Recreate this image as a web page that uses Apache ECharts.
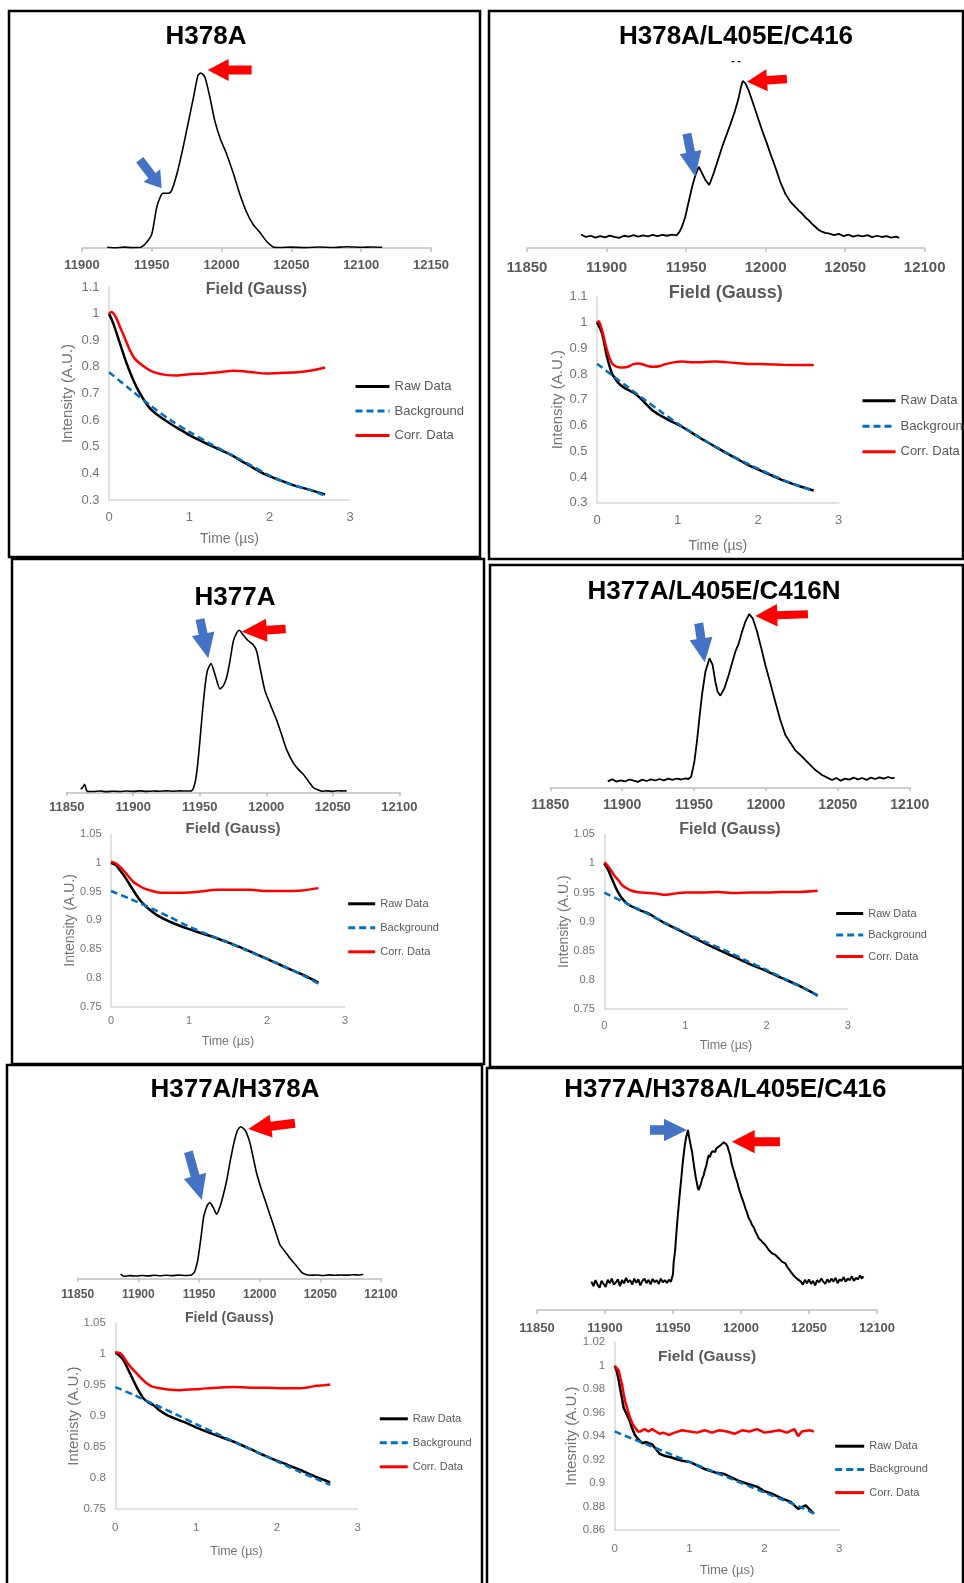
<!DOCTYPE html>
<html><head><meta charset="utf-8">
<script src="https://cdn.jsdelivr.net/npm/echarts@6/dist/echarts.min.js"></script>
<style>html,body{margin:0;padding:0;background:#fff}#c{width:964px;height:1583px}</style>
</head><body><div id="c"></div>
<script>
// ---------- DATA ----------
const fieldTicks = [11850, 11900, 11950, 12000, 12050, 12100, 12150];
const legendNames = ['Raw Data', 'Background', 'Corr. Data'];

// Field-swept spectra: [field (G), normalised signal]
const h378aSpectrum = [[11918,0.004],[11924,0.001],[11930,0.005],[11936,0.002],[11942,0.004],[11946,0.03],[11950,0.08],[11953.5,0.232],[11956,0.29],[11958,0.313],[11962,0.313],[11964,0.324],[11968,0.424],[11972.5,0.578],[11976,0.712],[11980,0.866],[11983,0.985],[11985,1.0],[11988,0.977],[11991.5,0.866],[11995,0.731],[11999,0.626],[12003.5,0.539],[12008.5,0.424],[12013,0.309],[12018,0.203],[12022.5,0.136],[12027.5,0.088],[12032,0.04],[12037,0.006],[12042,0.003],[12050,0.005],[12060,0.002],[12070,0.006],[12080,0.003],[12090,0.007],[12100,0.004],[12108,0.006],[12115,0.004]];
const h378aTripleSpectrum = [[11884,0.01],[11887,-0.006],[11890,0.002],[11893,-0.01],[11896,0.0],[11899,-0.008],[11902,0.003],[11905,-0.005],[11908,-0.012],[11911,0.002],[11914,-0.004],[11917,0.006],[11920,-0.003],[11923,0.004],[11926,-0.002],[11929,0.008],[11932,0.0],[11935,0.007],[11938,0.002],[11941,0.009],[11944,0.004],[11946,0.03],[11947.4,0.06],[11949.5,0.125],[11951.6,0.22],[11953.8,0.318],[11955.9,0.394],[11958,0.447],[11960.1,0.404],[11962.2,0.361],[11964.6,0.329],[11967.5,0.41],[11970.5,0.505],[11973,0.585],[11975.5,0.655],[11978,0.725],[11980.5,0.8],[11982.8,0.88],[11984.6,0.965],[11985.6,1.0],[11987.3,0.985],[11989.3,0.94],[11992.5,0.845],[11995.6,0.748],[11998.2,0.67],[12000.8,0.598],[12003.4,0.52],[12006,0.447],[12009.2,0.35],[12012.3,0.275],[12015.5,0.222],[12018.6,0.189],[12020.7,0.165],[12022.8,0.146],[12025,0.12],[12027,0.103],[12029,0.08],[12031.2,0.06],[12033.3,0.04],[12035.4,0.028],[12037.5,0.02],[12039.6,0.017],[12043,0.006],[12046,0.014],[12049,0.0],[12052,0.009],[12055,-0.004],[12058,0.005],[12061,-0.002],[12064,0.006],[12067,-0.007],[12070,0.002],[12073,-0.006],[12076,-0.001],[12079,-0.01],[12082,-0.004],[12084,-0.012]];
const h377aSpectrum = [[11860.5,0.01],[11862,0.02],[11863.5,0.04],[11865,0.0],[11867,-0.005],[11870,-0.005],[11875,-0.002],[11880,-0.006],[11885,-0.003],[11890,-0.005],[11895,-0.002],[11900,-0.004],[11905,-0.001],[11910,-0.004],[11915,-0.002],[11920,-0.003],[11925,-0.001],[11930,-0.003],[11935,-0.001],[11940,-0.002],[11944,0.0],[11946.5,0.051],[11948.3,0.153],[11950.2,0.317],[11951.9,0.48],[11953.9,0.644],[11955.7,0.746],[11958.5,0.793],[11961.4,0.726],[11965.2,0.634],[11967.7,0.654],[11970.2,0.706],[11972.7,0.808],[11975.2,0.931],[11977.7,0.982],[11979.7,1.0],[11982.7,0.971],[11986.5,0.935],[11990.2,0.91],[11992.8,0.869],[11995.3,0.767],[11999,0.624],[12003.3,0.532],[12007.8,0.44],[12011.6,0.348],[12015.3,0.256],[12020.3,0.174],[12024.1,0.133],[12027.8,0.102],[12031.6,0.061],[12035.3,0.02],[12039.1,0.004],[12042,-0.003],[12046,-0.001],[12050,-0.004],[12054,0.0],[12058,-0.002],[12060.4,-0.001]];
const h377aTripleSpectrum = [[11890,-0.008],[11893,0.004],[11896,-0.01],[11899,-0.002],[11902,-0.009],[11905,0.003],[11908,-0.004],[11911,-0.011],[11914,0.002],[11917,-0.006],[11920,0.004],[11923,-0.003],[11926,0.006],[11929,-0.002],[11932,0.008],[11935,0.001],[11938,0.009],[11941,0.003],[11944,0.01],[11946,0.006],[11948,0.02],[11950.2,0.11],[11952,0.231],[11953.7,0.371],[11955.5,0.512],[11957.9,0.653],[11960.8,0.733],[11962.9,0.693],[11964.8,0.592],[11966.4,0.532],[11968.3,0.508],[11971.1,0.552],[11974.1,0.633],[11976.4,0.703],[11978.7,0.773],[11981.1,0.823],[11983.4,0.894],[11985.7,0.954],[11988.4,1.0],[11990.8,0.974],[11993.8,0.894],[11996.8,0.793],[11999.6,0.693],[12003.1,0.582],[12006.5,0.472],[12010,0.361],[12013.5,0.271],[12017,0.225],[12020.5,0.178],[12025.1,0.141],[12029.7,0.1],[12034.4,0.06],[12039,0.03],[12043.7,0.01],[12046,0.0],[12049,0.012],[12052,-0.004],[12055,0.008],[12058,0.002],[12061,0.014],[12064,0.004],[12067,0.012],[12070,0.001],[12073,0.014],[12076,0.006],[12079,0.016],[12082,0.008],[12085,0.018],[12088,0.01],[12089.5,0.014]];
const doubleSpectrum = [[11885.4,0.01],[11888,-0.004],[11893,0.0],[11898,-0.003],[11903,0.001],[11908,-0.002],[11913,0.002],[11918,-0.001],[11923,0.002],[11928,0.0],[11933,0.003],[11938,0.001],[11943,0.002],[11946,0.02],[11948.7,0.094],[11950.4,0.183],[11952.2,0.295],[11953.6,0.385],[11955,0.43],[11956.9,0.474],[11959,0.49],[11961.8,0.456],[11964.6,0.412],[11967.3,0.463],[11970,0.541],[11972.9,0.642],[11975.6,0.765],[11977.8,0.855],[11979.7,0.922],[11981.9,0.978],[11984.3,1.0],[11987.1,0.984],[11989.3,0.955],[11992.1,0.888],[11994.8,0.787],[11997.5,0.687],[12000.3,0.608],[12003,0.541],[12005.8,0.474],[12008.5,0.407],[12011.3,0.34],[12014,0.273],[12016.8,0.206],[12020.9,0.161],[12025,0.116],[12029.2,0.076],[12031.9,0.049],[12034.7,0.022],[12037.4,0.009],[12042,0.002],[12047,0.004],[12052,0.001],[12057,0.005],[12062,0.002],[12067,0.004],[12072,0.003],[12077,0.006],[12082,0.004],[12085.4,0.007]];
const quadSpectrum = [[11890,0.0],[11891.5,-0.03],[11893,0.01],[11894.5,-0.02],[11896,-0.04],[11897.5,0.005],[11899,-0.015],[11900.5,-0.035],[11902,0.012],[11903.5,-0.01],[11905,0.02],[11906.5,-0.02],[11908,-0.005],[11909.5,0.015],[11911,-0.03],[11912.5,0.01],[11914,-0.012],[11915.5,0.025],[11917,-0.005],[11918.5,0.01],[11920,-0.02],[11921.5,0.02],[11923,-0.008],[11924.5,0.015],[11926,-0.025],[11927.5,0.005],[11929,0.02],[11930.5,-0.01],[11932,0.012],[11933.5,-0.018],[11935,0.018],[11936.5,-0.004],[11938,0.01],[11939.5,-0.015],[11941,0.02],[11942.5,-0.005],[11944,0.01],[11945.5,-0.008],[11947,0.012],[11948.5,0.0],[11950,0.05],[11950.5,0.13],[11951.5,0.2],[11952.2,0.286],[11953.2,0.4],[11954.2,0.505],[11955.2,0.6],[11956.1,0.681],[11957,0.77],[11957.8,0.835],[11958.7,0.9],[11959.5,0.945],[11960.3,0.975],[11961,1.0],[11961.7,0.96],[11962.5,0.923],[11963.2,0.89],[11964,0.857],[11965,0.79],[11965.9,0.736],[11966.7,0.69],[11967.6,0.648],[11968.2,0.62],[11968.9,0.604],[11969.7,0.625],[11970.6,0.648],[11971.5,0.68],[11972.6,0.703],[11973.4,0.735],[11974.3,0.758],[11975.3,0.8],[11976.3,0.835],[11977.1,0.82],[11978,0.846],[11979,0.86],[11980,0.868],[11981,0.855],[11981.9,0.879],[11982.8,0.87],[11983.6,0.89],[11984.6,0.885],[11985.6,0.905],[11986.5,0.9],[11987.3,0.919],[11988,0.91],[11988.5,0.927],[11989.3,0.905],[11990.2,0.89],[11991.1,0.86],[11992,0.835],[11992.7,0.8],[11993.4,0.769],[11994.6,0.735],[11995.9,0.692],[11997.1,0.66],[11998.4,0.615],[11999.6,0.58],[12000.8,0.549],[12002,0.52],[12003.2,0.484],[12004.4,0.455],[12005.7,0.418],[12006.9,0.4],[12008.1,0.374],[12009.3,0.36],[12010.6,0.33],[12011.8,0.31],[12013,0.286],[12014.2,0.29],[12015.5,0.264],[12016.7,0.26],[12017.9,0.242],[12019.1,0.235],[12020.4,0.209],[12021.6,0.215],[12022.8,0.187],[12024,0.195],[12025.3,0.176],[12026.5,0.17],[12027.7,0.154],[12028.9,0.16],[12030.1,0.132],[12031.3,0.14],[12032.6,0.121],[12033.8,0.1],[12035,0.088],[12036.2,0.07],[12037.5,0.055],[12038.7,0.04],[12039.9,0.033],[12041.1,0.02],[12042.4,0.018],[12044,0.0],[12045.5,-0.02],[12047,0.012],[12048.5,-0.01],[12050,0.015],[12051.5,-0.015],[12053,0.005],[12054.5,-0.025],[12056,0.01],[12057.5,-0.005],[12059,0.02],[12060.5,0.0],[12062,-0.015],[12063.5,0.015],[12065,-0.005],[12066.5,0.02],[12068,0.0],[12069.5,0.025],[12071,-0.01],[12072.5,0.015],[12074,0.005],[12075.5,0.03],[12077,0.0],[12078.5,0.02],[12080,0.01],[12081.5,0.035],[12083,0.005],[12084.5,0.025],[12086,0.015],[12087.5,0.04],[12089,0.02],[12090,0.035]];

// Time traces: [time (us), intensity (A.U.)]
const h378aRaw = [[0,1.0],[0.054,0.9625],[0.137,0.8875],[0.22,0.8125],[0.303,0.75],[0.386,0.70],[0.51,0.644],[0.635,0.6125],[0.76,0.5875],[0.88,0.565],[1.0,0.544],[1.17,0.518],[1.34,0.494],[1.5,0.472],[1.63,0.45],[1.8,0.42],[1.96,0.394],[2.13,0.374],[2.29,0.356],[2.5,0.338],[2.69,0.321]];
const h378aBackground = [[0,0.78],[0.25,0.719],[0.51,0.656],[0.75,0.603],[1.0,0.556],[1.25,0.513],[1.5,0.473],[1.75,0.433],[2.0,0.392],[2.25,0.36],[2.5,0.338],[2.69,0.316]];
const h378aCorr = [[0,1.0],[0.03,1.006],[0.08,0.99],[0.137,0.95],[0.2,0.906],[0.26,0.8625],[0.32,0.831],[0.386,0.8125],[0.47,0.794],[0.55,0.781],[0.72,0.769],[0.85,0.768],[1.0,0.7725],[1.2,0.7755],[1.4,0.781],[1.55,0.785],[1.76,0.781],[1.96,0.775],[2.17,0.7775],[2.38,0.781],[2.54,0.7875],[2.69,0.7975]];

const h378aTripleRaw = [[0,1.0],[0.062,0.958],[0.124,0.867],[0.186,0.802],[0.23,0.78],[0.27,0.763],[0.33,0.748],[0.393,0.737],[0.45,0.728],[0.517,0.712],[0.6,0.686],[0.683,0.66],[0.79,0.638],[0.89,0.621],[1.055,0.595],[1.25,0.557],[1.47,0.517],[1.68,0.48],[1.88,0.446],[2.1,0.415],[2.3,0.388],[2.5,0.366],[2.69,0.347]];
const h378aTripleBackground = [[0,0.84],[0.2,0.792],[0.4,0.745],[0.6,0.698],[0.8,0.652],[1.0,0.608],[1.2,0.568],[1.4,0.53],[1.6,0.495],[1.8,0.462],[2.0,0.432],[2.2,0.403],[2.4,0.377],[2.6,0.355],[2.69,0.345]];
const h378aTripleCorr = [[0,1.0],[0.02,1.005],[0.062,0.97],[0.124,0.893],[0.186,0.841],[0.23,0.83],[0.27,0.826],[0.33,0.825],[0.4,0.83],[0.45,0.838],[0.517,0.841],[0.58,0.836],[0.64,0.83],[0.7,0.828],[0.77,0.83],[0.85,0.838],[0.95,0.845],[1.055,0.848],[1.2,0.845],[1.47,0.848],[1.7,0.843],[1.9,0.839],[2.1,0.838],[2.3,0.836],[2.5,0.835],[2.69,0.835]];

const h377aRaw = [[0,1.0],[0.06,0.996],[0.115,0.987],[0.18,0.975],[0.244,0.961],[0.31,0.947],[0.372,0.935],[0.44,0.925],[0.5,0.918],[0.58,0.91],[0.67,0.903],[0.8,0.895],[0.97,0.886],[1.15,0.878],[1.355,0.869],[1.55,0.859],[1.78,0.846],[2.0,0.833],[2.21,0.82],[2.45,0.806],[2.66,0.792]];
const h377aBackground = [[0,0.951],[0.25,0.937],[0.5,0.922],[0.75,0.906],[1.0,0.889],[1.25,0.875],[1.5,0.862],[1.75,0.847],[2.0,0.833],[2.25,0.818],[2.5,0.802],[2.66,0.79]];
const h377aCorr = [[0,1.002],[0.05,1.0],[0.1,0.995],[0.158,0.987],[0.22,0.977],[0.286,0.967],[0.35,0.961],[0.415,0.956],[0.5,0.952],[0.585,0.949],[0.7,0.948],[0.93,0.948],[1.15,0.95],[1.355,0.953],[1.55,0.953],[1.78,0.953],[2.0,0.951],[2.21,0.951],[2.45,0.952],[2.66,0.956]];

const h377aTripleRaw = [[0,1.0],[0.037,0.992],[0.074,0.98],[0.136,0.96],[0.18,0.948],[0.218,0.94],[0.28,0.931],[0.34,0.926],[0.45,0.919],[0.547,0.914],[0.65,0.905],[0.75,0.897],[0.958,0.883],[1.15,0.869],[1.37,0.854],[1.58,0.841],[1.78,0.828],[2.0,0.815],[2.19,0.803],[2.4,0.79],[2.63,0.773]];
const h377aTripleBackground = [[0,0.95],[0.25,0.933],[0.5,0.916],[0.75,0.898],[1.0,0.881],[1.25,0.865],[1.5,0.85],[1.75,0.833],[2.0,0.817],[2.25,0.8],[2.5,0.783],[2.63,0.773]];
const h377aTripleCorr = [[0,1.002],[0.053,0.994],[0.1,0.984],[0.136,0.977],[0.18,0.97],[0.218,0.963],[0.28,0.957],[0.34,0.953],[0.4,0.951],[0.464,0.95],[0.55,0.949],[0.65,0.948],[0.75,0.946],[0.85,0.948],[1.0,0.95],[1.2,0.95],[1.4,0.951],[1.6,0.949],[1.8,0.95],[2.0,0.95],[2.2,0.951],[2.4,0.951],[2.63,0.953]];

const doubleRaw = [[0,1.003],[0.05,0.998],[0.099,0.991],[0.16,0.975],[0.223,0.958],[0.28,0.943],[0.347,0.929],[0.41,0.922],[0.47,0.918],[0.55,0.909],[0.636,0.902],[0.74,0.896],[0.84,0.891],[1.05,0.879],[1.25,0.869],[1.46,0.859],[1.67,0.847],[1.87,0.835],[2.08,0.824],[2.29,0.813],[2.5,0.801],[2.66,0.793]];
const doubleBackground = [[0,0.947],[0.25,0.933],[0.5,0.918],[0.75,0.903],[1.0,0.887],[1.25,0.872],[1.5,0.857],[1.75,0.842],[2.0,0.827],[2.25,0.812],[2.5,0.798],[2.66,0.789]];
const doubleCorr = [[0,1.003],[0.06,1.002],[0.14,0.988],[0.2,0.978],[0.264,0.969],[0.33,0.96],[0.388,0.953],[0.45,0.948],[0.553,0.945],[0.65,0.943],[0.8,0.942],[1.05,0.944],[1.25,0.946],[1.46,0.947],[1.67,0.946],[1.87,0.946],[2.08,0.945],[2.29,0.945],[2.49,0.949],[2.58,0.95],[2.66,0.951]];

const quadRaw = [[0,1.0],[0.025,0.996],[0.053,0.988],[0.075,0.98],[0.098,0.972],[0.12,0.964],[0.143,0.961],[0.165,0.958],[0.2,0.953],[0.231,0.947],[0.27,0.941],[0.32,0.937],[0.37,0.934],[0.42,0.935],[0.454,0.934],[0.5,0.933],[0.55,0.929],[0.6,0.925],[0.676,0.923],[0.75,0.922],[0.8,0.921],[0.9,0.919],[1.0,0.918],[1.1,0.915],[1.2,0.912],[1.344,0.909],[1.45,0.908],[1.55,0.905],[1.65,0.902],[1.79,0.899],[1.9,0.897],[2.0,0.893],[2.1,0.891],[2.23,0.887],[2.35,0.884],[2.45,0.878],[2.55,0.881],[2.66,0.874]];
const quadBackground = [[0,0.944],[0.5,0.931],[1.0,0.918],[1.5,0.905],[2.0,0.892],[2.5,0.879],[2.66,0.874]];
const quadCorr = [[0,1.0],[0.025,0.998],[0.053,0.996],[0.075,0.99],[0.098,0.984],[0.12,0.976],[0.142,0.969],[0.175,0.962],[0.209,0.955],[0.243,0.95],[0.276,0.947],[0.31,0.944],[0.343,0.944],[0.4,0.946],[0.45,0.944],[0.5,0.946],[0.55,0.944],[0.6,0.942],[0.65,0.943],[0.72,0.941],[0.8,0.943],[0.9,0.945],[1.0,0.944],[1.1,0.943],[1.2,0.945],[1.3,0.943],[1.4,0.945],[1.5,0.944],[1.6,0.942],[1.7,0.945],[1.8,0.944],[1.9,0.946],[2.0,0.943],[2.1,0.944],[2.2,0.945],[2.3,0.943],[2.4,0.946],[2.45,0.94],[2.5,0.944],[2.6,0.945],[2.66,0.944]];

// ---------- LAYOUT & STYLE ----------
const FONT = '"Liberation Sans", Arial, Helvetica, sans-serif';
const RED = '#FF0000', ARROW_BLUE = '#4472C4', BG_BLUE = '#0070C0';
const GREY_AXIS = '#bfbfbf', GREY_AXIS2 = '#d9d9d9', GREY_TXT = '#595959', GREY_TICK = '#747474';

const panels = [
  { title:'H378A', tx:206, ty:37, box:[9,11,471,546],
    spec:{ data:h378aSpectrum, left:82, width:349, axisY:248, peakY:73, ymin:0, xmin:11900, xmax:12150, tickFont:13, nameFont:16, margin:11, nameGap:34, lw:1.6, smooth:0.2 },
    deer:{ raw:h378aRaw, bg:h378aBackground, corr:h378aCorr, left:109, width:241, top:287, height:213, ymin:0.3, ymax:1.1, interval:0.1, tickFont:13, nameFont:14, xMargin:10.5, nameGap:32, yName:'Intensity (A.U.)', yNameX:68, yNameFont:15, smooth:0.3 },
    legend:{ left:354, top:380, itemWidth:34, itemGap:11.5, font:13 },
    arrows:[ { color:RED, at:[11985,1.0], angle:180, len:44, head:21, headW:22, shaftW:9, dx:7, dy:-3 },
             { color:ARROW_BLUE, at:[11958,0.313], angle:52.5, len:36, head:16, headW:21, shaftW:9, dx:-1.3, dy:-4.9 } ] },
  { title:'H378A/L405E/C416', tx:736, ty:37, box:[489,11,474,548],
    spec:{ data:h378aTripleSpectrum, left:527, width:397.7, axisY:248, peakY:81, ymin:-0.077, xmin:11850, xmax:12100, tickFont:15, nameFont:18, margin:12, nameGap:36, lw:1.8, smooth:0 },
    deer:{ raw:h378aTripleRaw, bg:h378aTripleBackground, corr:h378aTripleCorr, left:597, width:241.7, top:296.7, height:206, ymin:0.3, ymax:1.1, interval:0.1, tickFont:13, nameFont:14, xMargin:11.5, nameGap:36, yName:'Intensity (A.U.)', yNameX:558, yNameFont:15, smooth:0.3 },
    legend:{ left:861, top:394.3, itemWidth:33, itemGap:12.5, font:13 },
    arrows:[ { color:RED, at:[11985.6,1.0], angle:176, len:40, head:20, headW:22, shaftW:8.5, dx:4.3, dy:0.7 },
             { color:ARROW_BLUE, at:[11958,0.447], angle:79, len:44, head:25, headW:22, shaftW:9, dx:-3.5, dy:10 } ] },
  { title:'H377A', tx:235, ty:597.7, box:[12,559,472,505],
    spec:{ data:h377aSpectrum, left:66.7, width:332.6, axisY:792.3, peakY:630.3, ymin:-0.01, xmin:11850, xmax:12100, tickFont:13, nameFont:15, margin:8.5, nameGap:29, lw:1.6, smooth:0.2 },
    deer:{ raw:h377aRaw, bg:h377aBackground, corr:h377aCorr, left:111, width:234, top:834, height:172.7, ymin:0.75, ymax:1.05, interval:0.05, tickFont:11, nameFont:12.5, xMargin:9, nameGap:28, yName:'Intensity (A.U.)', yNameX:70, yNameFont:14, smooth:0.3 },
    legend:{ left:346.7, top:898.2, itemWidth:27, itemGap:12.8, font:11 },
    arrows:[ { color:RED, at:[11979.7,1.0], angle:176.5, len:44, head:25, headW:23, shaftW:8.7, dx:2.5, dy:1.4 },
             { color:ARROW_BLUE, at:[11958.5,0.793], angle:78, len:40, head:25, headW:23, shaftW:9, dx:-2.75, dy:-5.2 } ] },
  { title:'H377A/L405E/C416N', tx:714, ty:592, box:[490,565,473,502],
    spec:{ data:h377aTripleSpectrum, left:550.3, width:359.4, axisY:787.3, peakY:614, ymin:-0.044, xmin:11850, xmax:12100, tickFont:14, nameFont:16, margin:10.7, nameGap:34, lw:1.8, smooth:0 },
    deer:{ raw:h377aTripleRaw, bg:h377aTripleBackground, corr:h377aTripleCorr, left:604.3, width:243.4, top:834.3, height:174.7, ymin:0.75, ymax:1.05, interval:0.05, tickFont:11, nameFont:12.5, xMargin:11, nameGap:30, yName:'Intensity (A.U.)', yNameX:563.7, yNameFont:14, smooth:0.3 },
    legend:{ left:834.7, top:907.9, itemWidth:27, itemGap:10.3, font:11 },
    arrows:[ { color:RED, at:[11988.4,1.0], angle:178, len:52.7, head:22, headW:22.3, shaftW:8, dx:6, dy:2 },
             { color:ARROW_BLUE, at:[11960.8,0.733], angle:81.3, len:39.5, head:24, headW:23, shaftW:9, dx:-4.9, dy:4 } ] },
  { title:'H377A/H378A', tx:235, ty:1090, box:[7,1065,475,530],
    spec:{ data:doubleSpectrum, left:77.7, width:303.3, axisY:1278.3, peakY:1126.7, ymin:-0.018, xmin:11850, xmax:12100, tickFont:12, nameFont:14, margin:10.5, nameGap:32.5, lw:1.6, smooth:0.2 },
    deer:{ raw:doubleRaw, bg:doubleBackground, corr:doubleCorr, left:115.3, width:242.4, top:1323.3, height:185.7, ymin:0.75, ymax:1.05, interval:0.05, tickFont:11.5, nameFont:12.5, xMargin:13, nameGap:36, yName:'Intenisty (A.U.)', yNameX:74, yNameFont:15, smooth:0.3 },
    legend:{ left:378.3, top:1413.2, itemWidth:28, itemGap:12.8, font:11 },
    arrows:[ { color:RED, at:[11984.3,1.0], angle:173, len:47, head:23, headW:23, shaftW:9, dx:7.7, dy:2.3 },
             { color:ARROW_BLUE, at:[11959,0.49], angle:74.5, len:50, head:25, headW:23, shaftW:9, dx:-8.2, dy:-2.7 } ] },
  { title:'H377A/H378A/L405E/C416', tx:725.3, ty:1090, box:[487,1068,476,530],
    spec:{ data:quadSpectrum, left:537, width:340, axisY:1310, peakY:1130, ymin:-0.187, xmin:11850, xmax:12100, tickFont:13, nameFont:15.5, margin:12, nameGap:39, lw:2, smooth:0 },
    deer:{ raw:quadRaw, bg:quadBackground, corr:quadCorr, left:614.7, width:224.6, top:1342.3, height:187.7, ymin:0.86, ymax:1.02, interval:0.02, tickFont:11.5, nameFont:13, xMargin:12.5, nameGap:34, yName:'Intesnity (A.U.)', yNameX:572, yNameFont:15, smooth:0 },
    legend:{ left:833.7, top:1440.6, itemWidth:29, itemGap:12, font:11 },
    arrows:[ { color:ARROW_BLUE, at:[11961,1.0], angle:0, len:37, head:23, headW:22.7, shaftW:9.3, dx:-1, dy:0 },
             { color:RED, at:[11988.5,0.927], angle:180, len:48, head:22.7, headW:23.3, shaftW:9, dx:6.6, dy:0.6 } ] }
];

// block-arrow symbol: tip at (0,0), pointing along angle (screen coords, y down)
function arrowShape(angleDeg, len, headLen, headW, shaftW) {
  const a = angleDeg * Math.PI / 180, ux = Math.cos(a), uy = Math.sin(a), nx = -uy, ny = ux;
  const hb = [-headLen * ux, -headLen * uy], tl = [-len * ux, -len * uy];
  const pts = [[0, 0],
    [hb[0] + nx * headW / 2, hb[1] + ny * headW / 2],
    [hb[0] + nx * shaftW / 2, hb[1] + ny * shaftW / 2],
    [tl[0] + nx * shaftW / 2, tl[1] + ny * shaftW / 2],
    [tl[0] - nx * shaftW / 2, tl[1] - ny * shaftW / 2],
    [hb[0] - nx * shaftW / 2, hb[1] - ny * shaftW / 2],
    [hb[0] - nx * headW / 2, hb[1] - ny * headW / 2]];
  const xs = pts.map(p => p[0]), ys = pts.map(p => p[1]);
  const minX = Math.min(...xs), minY = Math.min(...ys);
  const w = Math.max(...xs) - minX, h = Math.max(...ys) - minY;
  const path = 'path://M' + pts.map(p => (p[0] - minX).toFixed(2) + ',' + (p[1] - minY).toFixed(2)).join(' L') + ' Z';
  return { path, w, h, tipX: -minX, tipY: -minY };
}

const grid = [], xAxis = [], yAxis = [], series = [], legend = [], graphic = [];
const numFmt = v => String(Math.round(v * 1000) / 1000);

panels.forEach((p, i) => {
  const gs = 2 * i, gd = 2 * i + 1, sp = p.spec, d = p.deer;
  // spectrum grid
  const scale = (sp.axisY - sp.peakY) / (1 - sp.ymin);
  const top = sp.peakY - 0.05 * scale;
  grid.push({ left: sp.left, top: top, width: sp.width, height: sp.axisY - top, containLabel: false, outerBoundsMode: 'none' });
  xAxis.push({ gridIndex: gs, type: 'value', min: sp.xmin, max: sp.xmax, interval: 50,
    axisLine: { show: true, onZero: false, lineStyle: { color: GREY_AXIS, width: 1.5 } },
    axisTick: { show: true, inside: false, length: 4, lineStyle: { color: GREY_AXIS, width: 1.5 } },
    splitLine: { show: false },
    axisLabel: { fontSize: sp.tickFont, fontWeight: 'bold', color: GREY_TXT, fontFamily: FONT, margin: sp.margin, formatter: v => String(v) },
    name: 'Field (Gauss)', nameLocation: 'middle', nameGap: sp.nameGap,
    nameTextStyle: { fontSize: sp.nameFont, fontWeight: 'bold', color: GREY_TXT, fontFamily: FONT } });
  yAxis.push({ gridIndex: gs, type: 'value', min: sp.ymin, max: 1.05, show: false });
  // DEER grid
  grid.push({ left: d.left, top: d.top, width: d.width, height: d.height, containLabel: false, outerBoundsMode: 'none' });
  xAxis.push({ gridIndex: gd, type: 'value', min: 0, max: 3, interval: 1,
    axisLine: { show: true, onZero: false, lineStyle: { color: GREY_AXIS2, width: 1.5 } },
    axisTick: { show: false }, splitLine: { show: false },
    axisLabel: { fontSize: d.tickFont, color: GREY_TICK, fontFamily: FONT, margin: d.xMargin, formatter: numFmt },
    name: 'Time (µs)', nameLocation: 'middle', nameGap: d.nameGap,
    nameTextStyle: { fontSize: d.nameFont, color: GREY_TICK, fontFamily: FONT } });
  yAxis.push({ gridIndex: gd, type: 'value', min: d.ymin, max: d.ymax, interval: d.interval,
    axisLine: { show: true, onZero: false, lineStyle: { color: GREY_AXIS2, width: 1.5 } },
    axisTick: { show: false }, splitLine: { show: false },
    axisLabel: { fontSize: d.tickFont, color: GREY_TICK, fontFamily: FONT, margin: 9.5, formatter: numFmt } });

  // arrows as markPoints anchored in data coordinates
  const mp = p.arrows.map(a => {
    const s = arrowShape(a.angle, a.len, a.head, a.headW, a.shaftW);
    return { coord: a.at, symbol: s.path, symbolSize: [s.w, s.h],
      symbolOffset: [a.dx - (s.tipX - s.w / 2), a.dy - (s.tipY - s.h / 2)],
      itemStyle: { color: a.color } };
  });
  series.push({ type: 'line', name: p.title + ' spectrum', xAxisIndex: gs, yAxisIndex: gs, data: sp.data,
    symbol: 'none', smooth: sp.smooth, lineStyle: { color: '#000', width: sp.lw }, itemStyle: { color: '#000' },
    silent: true, z: 3,
    markPoint: { silent: true, animation: false, label: { show: false }, data: mp } });
  series.push({ type: 'line', name: 'Raw Data', xAxisIndex: gd, yAxisIndex: gd, data: d.raw, symbol: 'none', smooth: d.smooth,
    lineStyle: { color: '#000', width: 2.5 }, itemStyle: { color: '#000' }, silent: true });
  series.push({ type: 'line', name: 'Background', xAxisIndex: gd, yAxisIndex: gd, data: d.bg, symbol: 'none', smooth: 0.3,
    lineStyle: { color: BG_BLUE, width: 2.5, type: [7, 4] }, itemStyle: { color: BG_BLUE }, silent: true });
  series.push({ type: 'line', name: 'Corr. Data', xAxisIndex: gd, yAxisIndex: gd, data: d.corr, symbol: 'none', smooth: d.smooth,
    lineStyle: { color: RED, width: 2.5 }, itemStyle: { color: RED }, silent: true });

  const L = p.legend;
  legend.push({ orient: 'vertical', left: L.left, top: L.top, itemWidth: L.itemWidth, itemHeight: 14, itemGap: L.itemGap,
    padding: 0, selectedMode: false, data: legendNames, lineStyle: { width: 3 },
    itemStyle: { opacity: 0, color: 'rgba(0,0,0,0)', borderColor: 'rgba(0,0,0,0)', borderWidth: 0 },
    textStyle: { fontSize: L.font, color: GREY_TXT, fontFamily: FONT } });

  // frame, title, rotated y-axis title
  graphic.push({ type: 'rect', z: 0, shape: { x: p.box[0], y: p.box[1], width: p.box[2], height: p.box[3] },
    style: { fill: 'none', stroke: '#000', lineWidth: 2.5 } });
  graphic.push({ type: 'text', x: p.tx, y: p.ty, style: { text: p.title, fontSize: 26, fontWeight: 'bold', fontFamily: FONT,
    fill: '#000', textAlign: 'center', textVerticalAlign: 'middle', align: 'center', verticalAlign: 'middle' } });
  graphic.push({ type: 'text', x: d.yNameX, y: d.top + d.height / 2, rotation: Math.PI / 2,
    style: { text: d.yName, fontSize: d.yNameFont, fontFamily: FONT, fill: GREY_TICK,
      textAlign: 'center', textVerticalAlign: 'middle', align: 'center', verticalAlign: 'middle' } });
});
// small cut-off marks under the second title
graphic.push({ type: 'text', x: 736, y: 61, style: { text: '- -', fontSize: 10, fontWeight: 'bold', fontFamily: FONT,
  fill: '#000', textAlign: 'center', textVerticalAlign: 'middle', align: 'center', verticalAlign: 'middle' } });

const chart = echarts.init(document.getElementById('c'), null, { renderer: 'canvas' });
chart.setOption({ backgroundColor: '#fff', animation: false, textStyle: { fontFamily: FONT },
  grid, xAxis, yAxis, series, legend, graphic, tooltip: { show: false } });
</script></body></html>
